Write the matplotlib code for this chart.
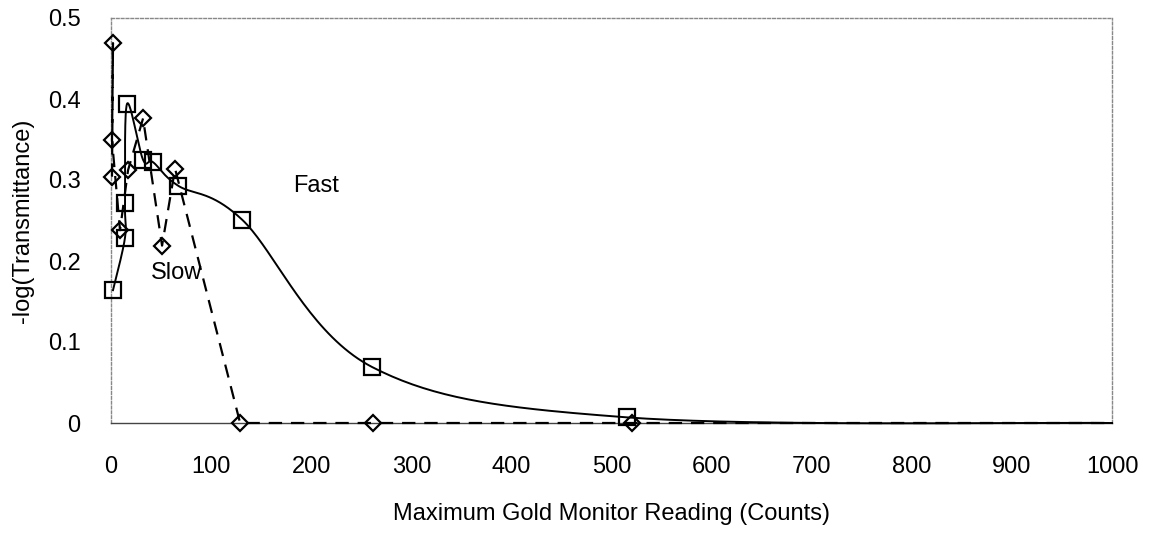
import numpy as np
import matplotlib
matplotlib.use("Agg")
import matplotlib.pyplot as plt

# Fast series (squares, solid, smoothed)
fast_x = [2, 14, 14, 16, 32, 42, 67, 131, 261, 515, 1000]
fast_y = [0.164, 0.229, 0.271, 0.394, 0.325, 0.322, 0.293, 0.251, 0.069, 0.007, 0.0]
# Slow series (diamonds, dashed)
slow_x = [1, 2, 1, 9, 17, 32, 51, 64, 129, 262, 520, 1000]
slow_y = [0.304, 0.469, 0.349, 0.238, 0.312, 0.376, 0.219, 0.314, 0.0, 0.0, 0.0, 0.0]

x_ticks = [0, 100, 200, 300, 400, 500, 600, 700, 800, 900, 1000]
y_ticks = [0, 0.1, 0.2, 0.3, 0.4, 0.5]
y_ticklabels = ["0", "0.1", "0.2", "0.3", "0.4", "0.5"]

FONT = ["Liberation Sans", "DejaVu Sans"]
plt.rcParams["font.family"] = FONT


def smooth(xs, ys, n=40):
    """Excel-like Catmull-Rom smoothing through the data points."""
    p = np.column_stack([xs, ys]).astype(float)
    pts = [p[0]]
    m = len(p)
    for i in range(m - 1):
        p0 = p[i - 1] if i > 0 else p[i]
        p1, p2 = p[i], p[i + 1]
        p3 = p[i + 2] if i + 2 < m else p[i + 1]
        c1 = p1 + (p2 - p0) / 6.0
        c2 = p2 - (p3 - p1) / 6.0
        t = np.linspace(0, 1, n)[1:, None]
        seg = ((1 - t) ** 3) * p1 + 3 * ((1 - t) ** 2) * t * c1 + 3 * (1 - t) * t ** 2 * c2 + t ** 3 * p2
        pts.extend(seg)
    pts = np.array(pts)
    return pts[:, 0], pts[:, 1]


fig = plt.figure(figsize=(11.59, 5.33), dpi=100)
ax = fig.add_axes([111 / 1159, 1 - 423 / 533, 1001 / 1159, 405 / 533])

fx, fy = smooth(fast_x, fast_y)
ax.plot(fx, fy, color="black", lw=1.4, clip_on=False, zorder=3)
ax.plot(slow_x, slow_y, color="black", lw=1.6, ls=(0, (6, 4)), clip_on=False, zorder=3)
ax.plot(fast_x[:-1], fast_y[:-1], ls="none", marker="s", ms=12, mfc="none",
        mec="black", mew=1.6, clip_on=False, zorder=4)
ax.plot(slow_x[:-1], slow_y[:-1], ls="none", marker="D", ms=8, mfc="none",
        mec="black", mew=1.6, clip_on=False, zorder=4)

ax.text(205, 0.293, "Fast", fontsize=17, ha="center", va="center")
ax.text(65, 0.185, "Slow", fontsize=17, ha="center", va="center")

ax.set_xlim(0, 1000)
ax.set_ylim(0, 0.5)
ax.set_xticks(x_ticks)
ax.set_xticklabels([str(v) for v in x_ticks])
ax.set_yticks(y_ticks)
ax.set_yticklabels(y_ticklabels)
ax.tick_params(length=0, labelsize=17)
ax.tick_params(axis="x", pad=24)
ax.tick_params(axis="y", pad=22)

for side in ["top", "right", "left"]:
    ax.spines[side].set_color("#888888")
    ax.spines[side].set_linestyle((0, (2, 1.5)))
    ax.spines[side].set_linewidth(1.0)
ax.spines["bottom"].set_color("#444444")
ax.spines["bottom"].set_linewidth(1.0)

ax.set_xlabel("Maximum Gold Monitor Reading (Counts)", fontsize=17, labelpad=18)
ax.set_ylabel("-log(Transmittance)", fontsize=17, labelpad=10)

fig.savefig("out.png", dpi=100)
